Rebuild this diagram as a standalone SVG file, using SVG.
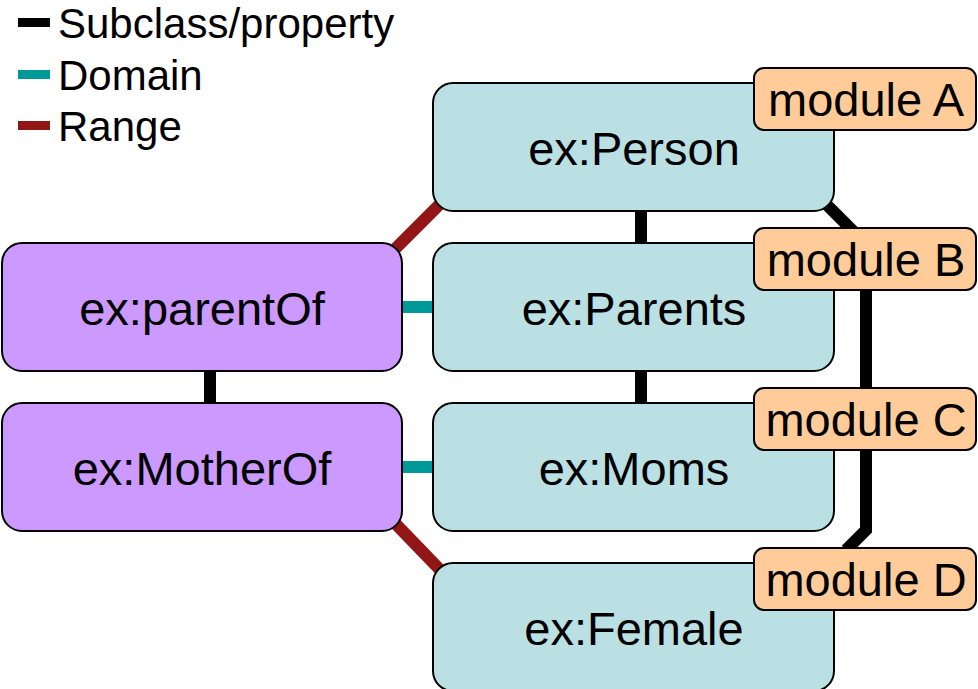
<svg xmlns="http://www.w3.org/2000/svg" width="978" height="689" viewBox="0 0 978 689">
  <style>
    text { font-family: "Liberation Sans", Arial, sans-serif; fill: #000; }
    .legend { font-size: 42px; }
    .label { font-size: 47px; text-anchor: middle; }
    .cls rect { fill: #BAE0E3; stroke: #000; stroke-width: 2; }
    .prop rect { fill: #CC99FF; stroke: #000; stroke-width: 2; }
    .mod rect { fill: #FFCC99; stroke: #000; stroke-width: 2; }
    .sub { stroke: #000; stroke-width: 12; fill: none; }
    .dom { stroke: #009999; stroke-width: 12; fill: none; }
    .rng { stroke: #921616; stroke-width: 12; fill: none; }
  </style>

  <!-- legend -->
  <g id="legend">
    <rect x="18" y="18" width="32" height="9" fill="#000"/>
    <text class="legend" x="58" y="38">Subclass/property</text>
    <rect x="18" y="70" width="32" height="9" fill="#009999"/>
    <text class="legend" x="58" y="90">Domain</text>
    <rect x="18" y="121" width="32" height="9" fill="#921616"/>
    <text class="legend" x="58" y="141">Range</text>
  </g>

  <!-- connectors -->
  <g id="connectors">
    <line class="sub" x1="641" y1="211" x2="641" y2="243"/>
    <line class="sub" x1="641" y1="371" x2="641" y2="403"/>
    <line class="sub" x1="210" y1="371" x2="210" y2="403"/>
    <polyline class="sub" points="822,200 866,244 866,530 846,550"/>
    <line class="dom" x1="402" y1="307" x2="433" y2="307"/>
    <line class="dom" x1="402" y1="467" x2="433" y2="467"/>
    <line class="rng" x1="390" y1="254" x2="446" y2="198"/>
    <line class="rng" x1="390" y1="518" x2="446" y2="576"/>
  </g>

  <!-- class nodes -->
  <g id="person" class="cls">
    <rect x="433" y="83" width="401" height="128" rx="20"/>
    <text class="label" x="634" y="165">ex:Person</text>
  </g>
  <g id="parents" class="cls">
    <rect x="433" y="243" width="401" height="128" rx="20"/>
    <text class="label" x="634" y="325">ex:Parents</text>
  </g>
  <g id="moms" class="cls">
    <rect x="433" y="403" width="401" height="128" rx="20"/>
    <text class="label" x="634" y="485">ex:Moms</text>
  </g>
  <g id="female" class="cls">
    <rect x="433" y="563" width="401" height="128" rx="20"/>
    <text class="label" x="634" y="645">ex:Female</text>
  </g>

  <!-- property nodes -->
  <g id="parentOf" class="prop">
    <rect x="2" y="243" width="400" height="128" rx="20"/>
    <text class="label" x="202" y="325">ex:parentOf</text>
  </g>
  <g id="motherOf" class="prop">
    <rect x="2" y="403" width="400" height="128" rx="20"/>
    <text class="label" x="202" y="485">ex:MotherOf</text>
  </g>

  <!-- module tags -->
  <g id="moduleA" class="mod">
    <rect x="754" y="68" width="222" height="62" rx="10"/>
    <text class="label" x="866" y="116">module A</text>
  </g>
  <g id="moduleB" class="mod">
    <rect x="754" y="228" width="222" height="62" rx="10"/>
    <text class="label" x="866" y="276">module B</text>
  </g>
  <g id="moduleC" class="mod">
    <rect x="754" y="388" width="222" height="62" rx="10"/>
    <text class="label" x="866" y="436">module C</text>
  </g>
  <g id="moduleD" class="mod">
    <rect x="754" y="548" width="222" height="62" rx="10"/>
    <text class="label" x="866" y="596">module D</text>
  </g>
</svg>
